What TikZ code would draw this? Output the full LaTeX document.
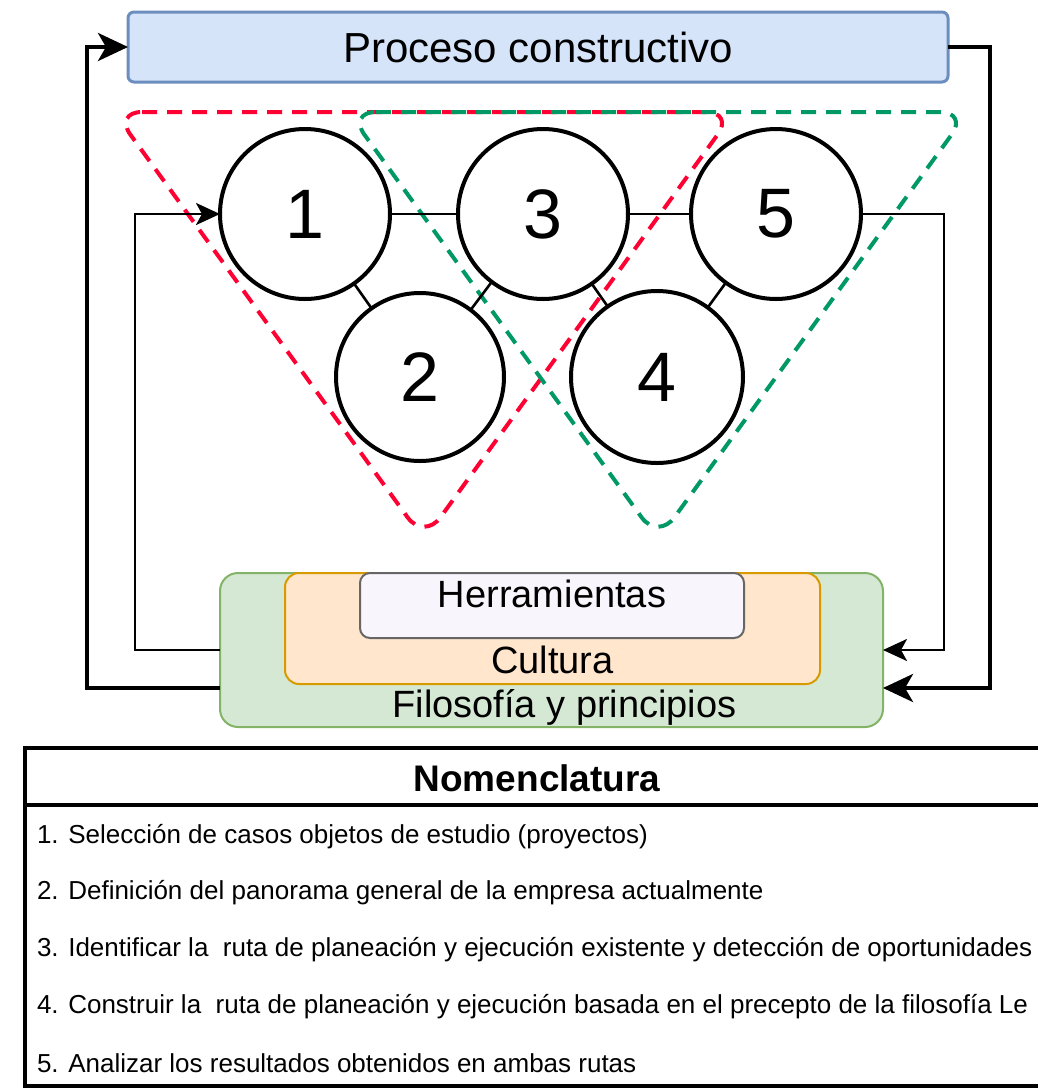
\documentclass[tikz,border=0pt]{standalone}
\usepackage{fontspec}
\setmainfont{Liberation Sans}
\usetikzlibrary{arrows.meta,fit}

\definecolor{procfill}{RGB}{214,228,250}
\definecolor{procline}{RGB}{108,142,191}
\definecolor{filofill}{RGB}{213,232,212}
\definecolor{filoline}{RGB}{130,179,102}
\definecolor{cultfill}{RGB}{255,230,204}
\definecolor{cultline}{RGB}{215,155,0}
\definecolor{herrfill}{RGB}{248,246,252}
\definecolor{herrline}{RGB}{102,102,102}
\definecolor{rutared}{RGB}{255,0,51}
\definecolor{rutagreen}{RGB}{0,153,102}

\begin{document}
\begin{tikzpicture}[
  x=0.5pt, y=-0.5pt,
  every node/.style={inner sep=0pt, outer sep=0pt},
  stage/.style={circle, draw, line width=2pt, fill=white, minimum size=85pt,
    font=\fontsize{35}{40}\selectfont},
  layer/.style={draw, rounded corners=7pt, line width=1pt},
  lbl/.style={anchor=base, font=\fontsize{19}{22}\selectfont},
  link/.style={line width=1.3pt},
  ruta/.style={dashed, dash pattern=on 7.5pt off 5pt, line width=2pt, rounded corners=14pt},
  outerloop/.style={line width=2pt, -{Stealth[length=15pt,width=14pt,inset=4pt]}},
  innerloop/.style={line width=1.4pt, -{Stealth[length=12pt,width=11pt,inset=3pt]}},
  item/.style={anchor=west, font=\fontsize{13}{15}\selectfont}]

  \path[use as bounding box] (0,0) rectangle (1038,1088);
  \clip (0,0) rectangle (1038,1088);

  % Top box
  \node[draw=procline, fill=procfill, line width=1.5pt, rounded corners=3pt,
    minimum width=410pt, minimum height=35pt, font=\fontsize{21}{24}\selectfont]
    (proc) at (538,47) {Proceso constructivo};

  % Dashed routes
  \draw[ruta, rutared] (114,112) -- (734,112) -- (424,540) -- cycle;
  \draw[ruta, rutagreen] (348,112) -- (968,112) -- (658,540) -- cycle;

  % Stages
  \node[stage] (n1) at (305,214) {1};
  \node[stage] (n3) at (543,214) {3};
  \node[stage] (n5) at (776,214) {5};
  \node[stage, minimum size=84pt] (n2) at (420,377) {2};
  \node[stage, minimum size=86pt] (n4) at (657,377) {4};

  \draw[link] (n1) -- (n3);
  \draw[link] (n3) -- (n5);
  \draw[link] (n1) -- (n2);
  \draw[link] (n2) -- (n3);
  \draw[link] (n3) -- (n4);
  \draw[link] (n4) -- (n5);

  % Nested layers
  \node[layer, draw=filoline, fill=filofill, rounded corners=9pt, fit={(220,573) (883,727)}] (filo) {};
  \node[layer, draw=cultline, fill=cultfill, fit={(285,573) (820,684)}] (cult) {};
  \node[layer, draw=herrline, fill=herrfill, rounded corners=5pt, fit={(360,573) (744,638)}] (herr) {};
  \node[lbl] (herrtxt) at ([yshift=15.5pt]herr.south) {Herramientas};
  \node[lbl] (culttxt) at ([yshift=5.5pt]cult.south) {Cultura};
  \node[lbl] (filotxt) at ([xshift=6.5pt,yshift=5pt]filo.south) {Filosofía y principios};

  % Feedback loops
  \draw[outerloop] ([yshift=-19pt]filo.west) -- ++(-133,0) |- (proc.west);
  \draw[outerloop] (proc.east) -- ++(42,0) |- ([yshift=-19pt]filo.east);
  \draw[innerloop] (filo.west) -- ++(-85,0) |- (n1.west);
  \draw[innerloop] (n5.east) -- ++(83,0) |- (filo.east);

  % Nomenclature table
  \node[draw, line width=2pt, fit={(25,748) (1080,1086)}] (nomen) {};
  \draw[line width=2pt] (25,805) -- (1080,805);
  \node[font=\bfseries\fontsize{18.5}{22}\selectfont] (nomtitle) at (537,778) {Nomenclatura};
  \node[item] (item1) at (37,837) {1. Selección de casos objetos de estudio (proyectos)};
  \node[item] (item2) at (37,893) {2. Definición del panorama general de la empresa actualmente};
  \node[item] (item3) at (37,950) {3. Identificar la\ \ ruta de planeación y ejecución existente y detección de oportunidades};
  \node[item] (item4) at (37,1007) {4. Construir la\ \ ruta de planeación y ejecución basada en el precepto de la filosofía Le};
  \node[item] (item5) at (37,1063) {5. Analizar los resultados obtenidos en ambas rutas};
\end{tikzpicture}
\end{document}
